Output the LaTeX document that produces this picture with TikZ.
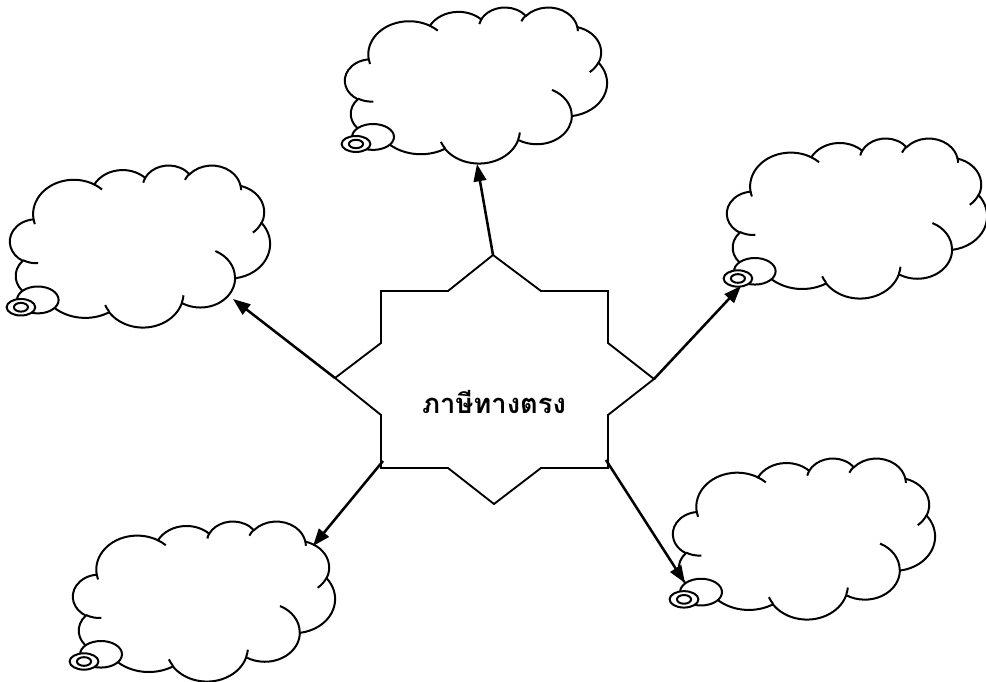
\documentclass[tikz,border=0pt]{standalone}
\usepackage{fontspec}
\newfontfamily\thaifont[Script=Thai]{Loma}
\usetikzlibrary{arrows.meta}

% one lobe of a cloud: x radius, y radius, start angle, sweep (visual angles)
\newcommand\puff[4]{arc[x radius=#1, y radius=#2,
  start angle={atan2(#1*sin(#3),#2*cos(#3))},
  delta angle={mod(atan2(#1*sin(#3+#4),#2*cos(#3+#4))-atan2(#1*sin(#3),#2*cos(#3))+720,360)}]}

% thought cloud: left, top, width, height
\newcommand\thought[4]{%
  \pgfmathsetmacro\cldx{#3/43.2}\pgfmathsetmacro\cldy{#4/43.2}
  \begin{scope}[shift={(#1,#2)}, xscale=\cldx, yscale=\cldy]
    \draw[cloudline,fill=white] (3.9,14.37) \puff{6.753}{9.19}{-190.49}{123.78}
      \puff{5.333}{7.267}{-144.10}{89.95} \puff{4.365}{5.945}{-145.81}{99.72}
      \puff{4.857}{6.595}{-130.99}{117.24} \puff{5.333}{7.273}{-78.71}{109.03}
      \puff{6.775}{9.22}{-46.27}{130.27} \puff{5.785}{7.867}{0.625}{114.03}
      \puff{6.752}{9.215}{22.45}{115.17} \puff{7.72}{10.543}{66.24}{75.71}
      \puff{4.36}{5.918}{-274.94}{146.74} \puff{4.345}{5.945}{-246.83}{152.52} -- cycle;
    \draw[cloudline] (4.693,26.177) \puff{4.345}{5.945}{86.74}{26.43}
      (6.928,34.899) \puff{4.36}{5.918}{73.61}{11.45}
      (16.478,39.09) \puff{6.752}{9.215}{137.62}{14.08}
      (28.827,34.751) \puff{6.752}{9.215}{6.45}{16.0}
      (34.129,22.954) \puff{5.785}{7.867}{-70.29}{70.92}
      (41.798,15.354) \puff{5.333}{7.273}{30.32}{27.75}
      (38.324,5.426) \puff{4.857}{6.595}{-13.74}{14.86}
      (29.078,3.952) \puff{4.857}{6.595}{-149.18}{18.2}
      (22.141,4.72) \puff{4.365}{5.945}{-163.49}{17.69}
      (14.0,5.192) \puff{6.753}{9.19}{-66.71}{12.32}
      (4.127,15.789) \puff{6.753}{9.19}{157.65}{11.86};
  \end{scope}
  \draw[cloudline,fill=white] ({#1+0.107*#3},{#2+0.833*#4})
    ellipse[x radius={0.08*#3}, y radius={0.083*#4}];
  \draw[cloudline,fill=white] ({#1+0.042*#3},{#2+0.878*#4})
    ellipse[x radius={0.055*#3}, y radius={0.051*#4}];
  \draw[cloudline] ({#1+0.042*#3},{#2+0.878*#4})
    ellipse[x radius={0.027*#3}, y radius={0.027*#4}];
}

\begin{document}
\begin{tikzpicture}[x=0.75pt,y=-0.75pt]
  \tikzset{cloudline/.style={line width=1.5pt},
    starline/.style={line width=1.4pt},
    link/.style={line width=1.9pt,-{Triangle[length=13pt,width=9.5pt]}}}
  \useasboundingbox (0,0) rectangle (986,682);

  \thought{345}{7}{262}{156}
  \thought{10}{165}{260}{162}
  \thought{727}{138}{260}{160}
  \thought{73}{521}{262}{160}
  \thought{673}{458}{262}{161}

  % the star
  \coordinate (top) at (493,255);
  \coordinate (lft) at (335,378);
  \coordinate (rgt) at (654,379);
  \coordinate (bl) at (383,461);
  \coordinate (br) at (606,460);
  \draw[starline] (top)--(541,291)--(608,291)--(608,343)--(rgt)--(608,415)--(608,468)
    --(541,468)--(494,504)--(448,468)--(381,468)--(381,415)--(lft)--(381,343)
    --(381,291)--(448,291)--cycle;
  \node[font=\thaifont\bfseries\fontsize{20.5}{24}\selectfont,anchor=base] (tax) at (494,413) {ภาษีทางตรง};

  % arrow tips on the clouds
  \coordinate (tipN) at (477,164);
  \coordinate (tipW) at (233,299);
  \coordinate (tipE) at (741,286);
  \coordinate (tipSW) at (313,546);
  \coordinate (tipSE) at (685,583);
  \draw[link] (top)--(tipN);
  \draw[link] (lft)--(tipW);
  \draw[link] (rgt)--(tipE);
  \draw[link] (bl)--(tipSW);
  \draw[link] (br)--(tipSE);
\end{tikzpicture}
\end{document}
